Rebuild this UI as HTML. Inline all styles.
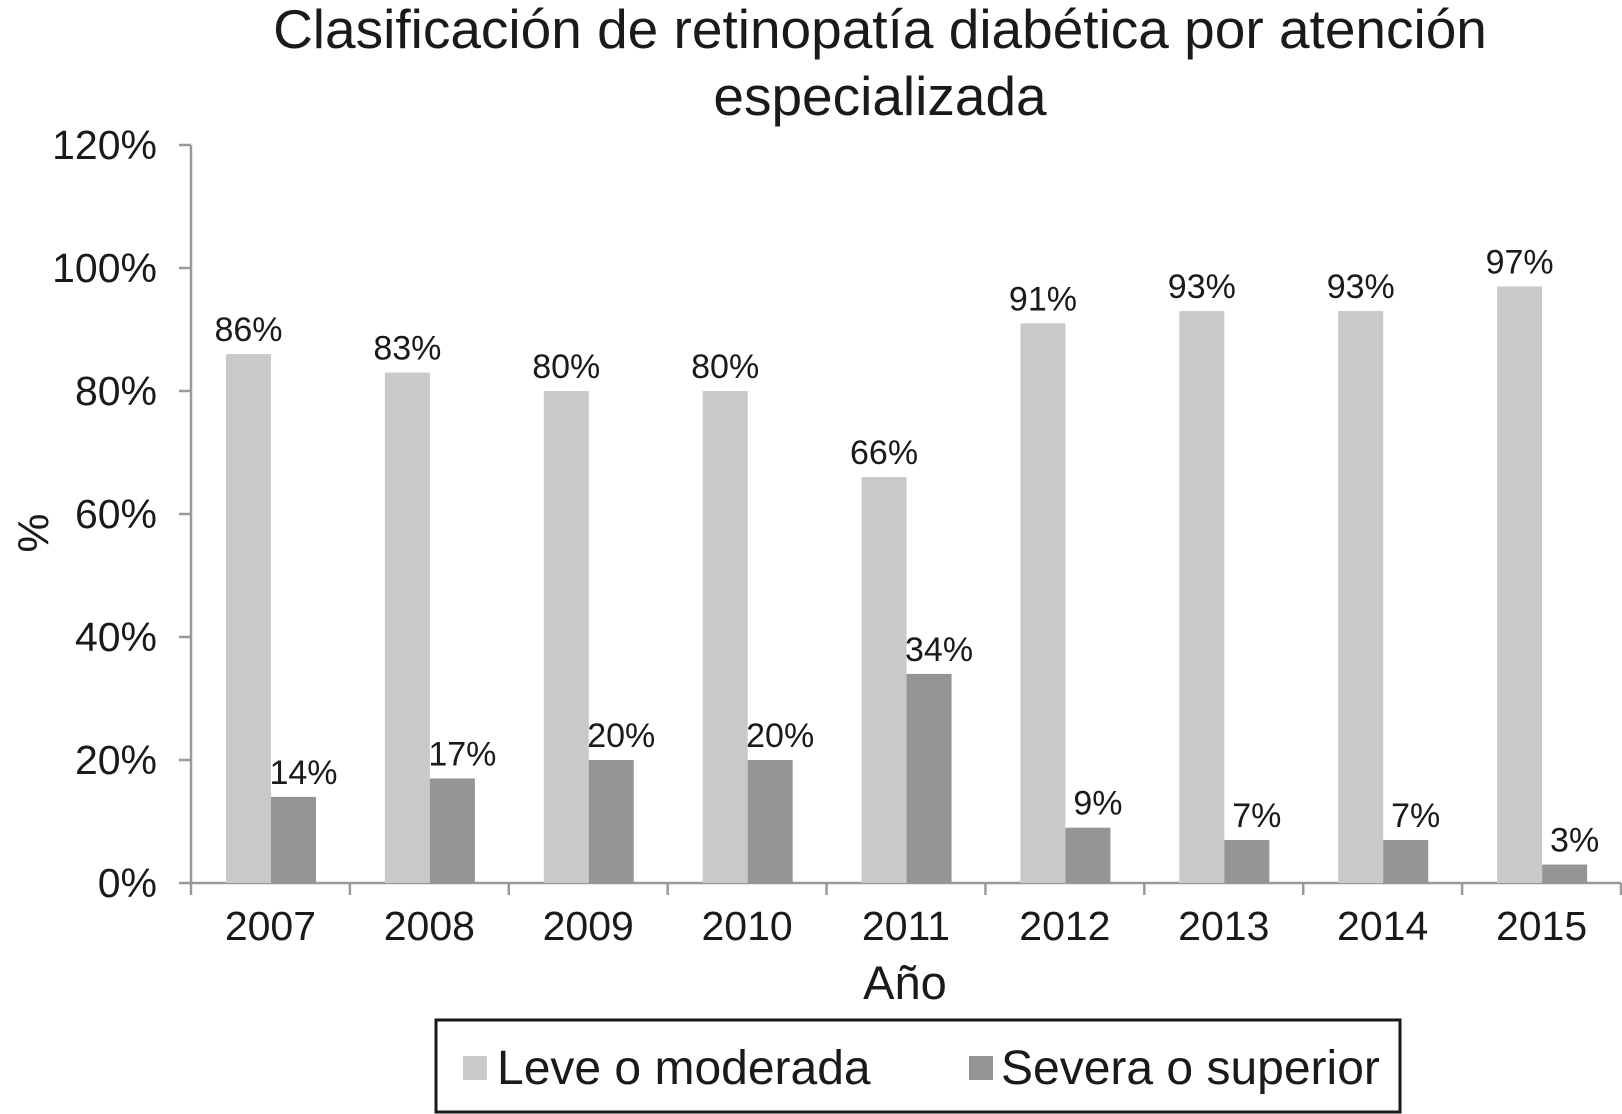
<!DOCTYPE html>
<html><head><meta charset="utf-8"><style>
html,body{margin:0;padding:0;background:#fff;}
svg{display:block;font-family:"Liberation Sans",Arial,sans-serif;}
</style></head><body>
<svg id="chart" width="1622" height="1114" viewBox="0 0 1622 1114">
<g id="title">
<text x="880" y="48" font-size="55" text-anchor="middle" fill="#1a1a1a">Clasificación de retinopatía diabética por atención</text>
<text x="880" y="115" font-size="55" text-anchor="middle" fill="#1a1a1a">especializada</text>
</g>
<text transform="translate(48,533) rotate(-90)" font-size="44" text-anchor="middle" fill="#1a1a1a">%</text>
<text x="905" y="999" font-size="47" text-anchor="middle" fill="#1a1a1a">Año</text>
<g id="axes"></g>
<g id="bars"></g>
<g id="labels"></g>
<g>
<rect x="436" y="1020" width="964" height="92" fill="#fff" stroke="#1a1a1a" stroke-width="3"/>
<g>
<rect x="463" y="1056" width="24" height="24" fill="#c8c9cb"/>
<text x="497" y="1084" font-size="48" fill="#1a1a1a">Leve o moderada</text>
</g>
<g>
<rect x="969" y="1056" width="24" height="24" fill="#939597"/>
<text x="1001" y="1084" font-size="48" fill="#1a1a1a">Severa o superior</text>
</g>
</g>
</svg>
<script>
const categories = ["2007","2008","2009","2010","2011","2012","2013","2014","2015"];
const leve = [86,83,80,80,66,91,93,93,97];
const severa = [14,17,20,20,34,9,7,7,3];
const yTicks = [0,20,40,60,80,100,120];
const NS = "http://www.w3.org/2000/svg";
const x0 = 191, x1 = 1621, yBase = 883, yTop = 145;
const band = (x1 - x0) / categories.length;
function yScale(v){ return yBase - (v/120)*(yBase - yTop); }
function xCat(i){ return x0 + i*band; }
function mk(tag, attrs, parent){ const e = document.createElementNS(NS, tag); for (const k in attrs) e.setAttribute(k, attrs[k]); parent.appendChild(e); return e; }
const axes = document.getElementById('axes'), bars = document.getElementById('bars'), labels = document.getElementById('labels');
const ya = mk('line',{x1:x0,y1:yTop,x2:x0,y2:yBase,stroke:'#999',"stroke-width":2.5},axes);


const xa = mk('line',{x1:x0,y1:yBase,x2:x1,y2:yBase,stroke:'#999',"stroke-width":2.5},axes);


yTicks.forEach(v => {
  const y = yScale(v);
  mk('line',{x1:x0-12,y1:y,x2:x0,y2:y,stroke:'#999',"stroke-width":2.5},axes);
  const t = mk('text',{x:x0-34,y:y+14,"font-size":41,"text-anchor":"end",fill:"#1a1a1a"},axes);
  t.textContent = v + '%';
  
  
});
for (let i = 0; i <= categories.length; i++) {
  mk('line',{x1:xCat(i),y1:yBase,x2:xCat(i),y2:yBase+12,stroke:'#999',"stroke-width":2.5},axes);
}
const bw = 45, off = 35;
categories.forEach((c,i) => {
  const xs = xCat(i);
  const t = mk('text',{x:xs+band/2,y:940,"font-size":41,"text-anchor":"middle",fill:"#1a1a1a"},axes);
  t.textContent = c;
  
  
  [[leve,'#c8c9cb',xs+off,'leve'],[severa,'#939597',xs+off+bw,'severa']].forEach(([arr,col,bx,nm]) => {
    const v = arr[i];
    const r = mk('rect',{x:bx,y:yScale(v),width:bw,height:yBase-yScale(v),fill:col},bars);
    
    
    const l = mk('text',{x:bx+bw/2+ (nm==='severa'?10:0),y:yScale(v)-13,"font-size":34,"text-anchor":"middle",fill:"#1a1a1a"},labels);
    l.textContent = v + '%';
    
    
  });
});
</script>
</body></html>
